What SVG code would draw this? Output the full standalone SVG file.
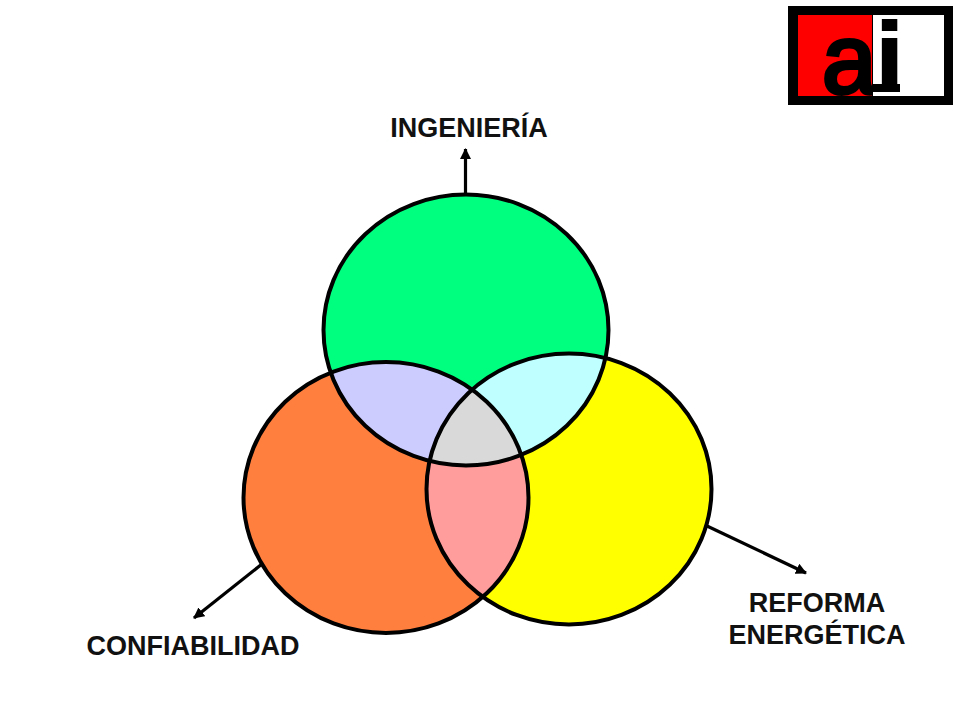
<svg xmlns="http://www.w3.org/2000/svg" width="960" height="720" viewBox="0 0 960 720">
<style>
.o{stroke:#000;stroke-width:4;fill:none}
.l{font-family:"Liberation Sans",Arial,sans-serif;font-weight:700;font-size:27px;fill:#111;text-anchor:middle}
.c{stroke:#000;stroke-width:3.200;fill:none;marker-end:url(#h)}
.g{font-family:"Liberation Sans",Arial,sans-serif;fill:#000;stroke:#000}
</style>
<defs>
<marker id="h" markerUnits="userSpaceOnUse" markerWidth="13" markerHeight="12" refX="10" refY="5.500" orient="auto"><path d="M0 0L11 5.500L0 11Z" fill="#000"/></marker>
<ellipse id="et" cx="466" cy="330" rx="142.500" ry="135.500"/>
<ellipse id="el" cx="386" cy="497.500" rx="142.500" ry="135.500"/>
<ellipse id="er" cx="569" cy="489" rx="142.500" ry="135.500"/>
<clipPath id="ct"><use href="#et"/></clipPath>
<clipPath id="cl"><use href="#el"/></clipPath>
<clipPath id="cr"><use href="#er"/></clipPath>
</defs>
<rect width="960" height="720" fill="#fff"/>
<g id="connectors">
<path class="c" d="M465.500 194V149"/>
<path class="c" d="M262 564L194 618"/>
<path class="c" d="M707 526L806 573"/>
</g>
<g id="node-confiabilidad"><use href="#el" fill="#ff7f3f"/></g>
<g id="node-reforma"><use href="#er" fill="#ffff00"/></g>
<g id="node-ingenieria"><use href="#et" fill="#00ff7f"/></g>
<g id="overlaps">
<g clip-path="url(#cl)"><use href="#er" fill="#ff9c9c"/></g>
<g clip-path="url(#ct)"><use href="#el" fill="#ccccff"/><use href="#er" fill="#bfffff"/></g>
<g clip-path="url(#ct)"><g clip-path="url(#cl)"><use href="#er" fill="#d9d9d9"/></g></g>
</g>
<g id="outlines">
<use href="#el" class="o"/><use href="#er" class="o"/><use href="#et" class="o"/>
</g>
<g id="labels">
<text class="l" x="469" y="137">INGENIERÍA</text>
<text class="l" x="193" y="655">CONFIABILIDAD</text>
<text class="l" x="817" y="612">REFORMA</text>
<text class="l" x="817" y="644">ENERGÉTICA</text>
</g>
<g id="logo">
<rect x="788" y="6" width="165" height="99" fill="#000"/>
<rect x="798" y="15" width="74" height="81" fill="#fe0000"/>
<text class="g" x="822" y="93" font-size="98" stroke-width="4">a</text>
<rect x="873" y="15" width="71" height="81" fill="#fff"/>
<text class="g" x="876" y="91" font-size="98" font-weight="700" stroke-width="2">i</text>
<rect x="872" y="84" width="28" height="8" fill="#000"/>
</g>
</svg>
